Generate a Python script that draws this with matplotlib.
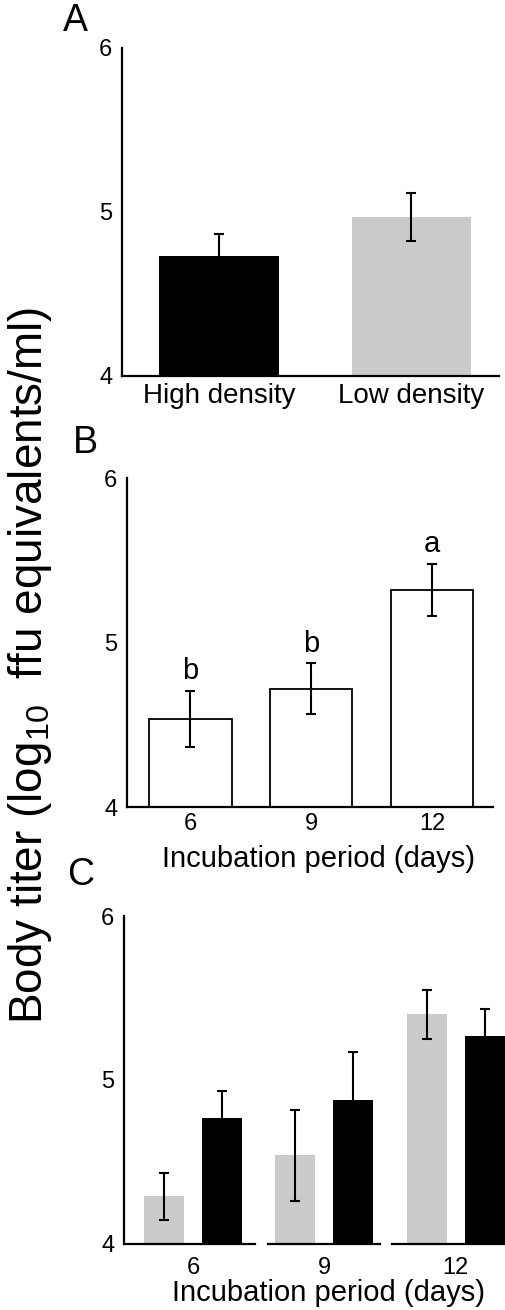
import matplotlib
matplotlib.use("Agg")
import matplotlib.pyplot as plt
import numpy as np

plt.rcParams['font.family'] = ['Liberation Sans', 'DejaVu Sans']
plt.rcParams['mathtext.fontset'] = 'custom'
plt.rcParams['mathtext.rm'] = 'Liberation Sans'

# panel A: density
density_labels = ["High density", "Low density"]
density_mean = [4.73, 4.97]
density_err = [0.135, 0.145]
density_colors = ["black", "#cbcbcb"]

# panel B: incubation period
days = ["6", "9", "12"]
incub_mean = [4.535, 4.72, 5.32]
incub_err = [0.17, 0.155, 0.16]
incub_letters = ["b", "b", "a"]

# panel C: density x incubation period (gray = low, black = high)
low_mean = [4.29, 4.54, 5.40]
low_err = [0.145, 0.28, 0.15]
high_mean = [4.77, 4.88, 5.27]
high_err = [0.165, 0.29, 0.16]

W, H = 505, 1310
fig = plt.figure(figsize=(W / 100, H / 100), dpi=100)


def px_axes(x0, x1, ytop, ybot):
    return fig.add_axes([x0 / W, 1 - ybot / H, (x1 - x0) / W, (ybot - ytop) / H])


def style(ax, left=True):
    ax.set_ylim(4, 6)
    for s in ["top", "right"]:
        ax.spines[s].set_visible(False)
    ax.spines["left"].set_visible(left)
    ax.spines["left"].set_linewidth(1.6)
    ax.spines["bottom"].set_linewidth(1.6)
    ax.tick_params(length=0, labelsize=17)
    ax.tick_params(axis="y", pad=7)
    if left:
        ax.set_yticks([4, 5, 6])
    else:
        ax.set_yticks([])
    ax.patch.set_visible(False)


ekw = dict(ecolor="black", elinewidth=1.5, capsize=3.5, capthick=1.5)

# ---- A
axA = px_axes(122, 499, 48, 376)
style(axA)
xa = np.arange(len(density_labels))
axA.bar(xa, density_mean, width=0.62, color=density_colors,
        yerr=density_err, error_kw=ekw)
axA.set_xlim(-0.504, 1.455)
axA.set_xticks(xa, density_labels, fontsize=20)
axA.tick_params(axis="x", pad=5)

# ---- B
axB = px_axes(127, 493, 478, 807)
style(axB)
xb = np.arange(len(days))
axB.bar(xb, incub_mean, width=0.68, color="white", edgecolor="black",
        linewidth=1.3, yerr=incub_err, error_kw=ekw)
for x, m, e, t in zip(xb, incub_mean, incub_err, incub_letters):
    axB.annotate(t, (x, m + e), xytext=(0, 4), textcoords="offset points",
                 ha="center", va="bottom", fontsize=21)
axB.set_xlim(-0.525, 2.504)
axB.set_xticks(xb, days)
axB.tick_params(axis="x", pad=4)
fig.text(318 / W, 1 - 859 / H, "Incubation period (days)", ha="center",
         va="center", fontsize=21)

# ---- C (one small axes per incubation period)
segs = [(124, 255, -0.698), (268, 380, -0.466), (392, 523, -0.595)]
for i, (x0, x1, xl) in enumerate(segs):
    ax = px_axes(x0, x1, 916, 1244)
    style(ax, left=(i == 0))
    ax.bar([0, 1], [low_mean[i], high_mean[i]], width=0.69,
           color=["#cbcbcb", "black"],
           yerr=[low_err[i], high_err[i]], error_kw=ekw)
    ax.set_xlim(xl, xl + (x1 - x0) / 58)
    ax.set_xticks([0.5], [days[i]])
    ax.tick_params(axis="x", pad=9)
fig.text(328 / W, 1 - 1293 / H, "Incubation period (days)", ha="center",
         va="center", fontsize=21)

# panel letters and shared y label
for lab, x, y in [("A", 75, 21), ("B", 85, 443), ("C", 81, 875)]:
    fig.text(x / W, 1 - y / H, lab, ha="center", va="center", fontsize=27)

fig.text(30 / W, 1 - 665 / H,
         r"Body titer (log$_{\mathregular{10}}$  ffu equivalents/ml)",
         rotation=90, ha="center", va="center", fontsize=33)

fig.savefig("out.png", dpi=100)
